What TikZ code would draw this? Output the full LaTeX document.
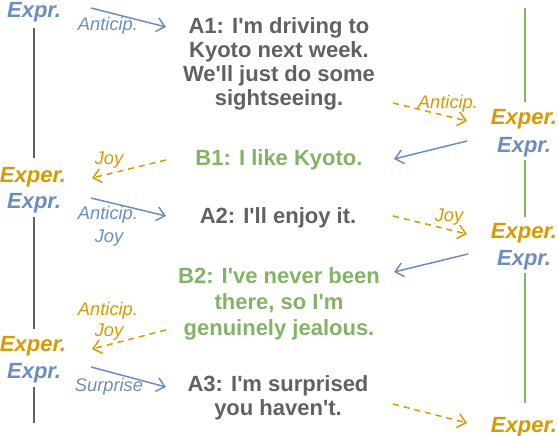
\documentclass[tikz,border=0pt]{standalone}
\usepackage{fontspec}
\setmainfont{Liberation Sans}[Ligatures=TeXOff]
\usetikzlibrary{arrows.meta}
\definecolor{cblue}{HTML}{6C8EBF}
\definecolor{corange}{HTML}{D79B00}
\definecolor{cgreen}{HTML}{82B366}
\definecolor{cgray}{HTML}{616161}
\begin{document}
\begin{tikzpicture}[x=1pt,y=-1pt,
 utt/.style={font=\fontsize{22}{24}\selectfont\bfseries, align=center, inner sep=0pt},
 lab/.style={font=\fontsize{22}{24}\selectfont\bfseries\itshape, inner sep=0pt},
 small/.style={font=\fontsize{18.3}{21}\selectfont\itshape, inner sep=0pt},
 bluearrow/.style={draw=cblue, line width=1.5pt, -{Straight Barb[length=8pt,width=14pt]}},
 orangearrow/.style={draw=corange, line width=1.5pt, dash pattern=on 6pt off 5pt, -{Straight Barb[length=8pt,width=14pt]}},
 lefttime/.style={draw=cgray, line width=2pt},
 righttime/.style={draw=cgreen, line width=2pt}
]
\useasboundingbox (0,0) rectangle (558,436);

% utterances
\node[utt, text=cgray] (A1) at (279,64) {A1: I'm driving to\\Kyoto next week.\\We'll just do some\\sightseeing.};
\node[utt, text=cgreen] (B1) at (279,160) {B1: I like Kyoto.};
\node[utt, text=cgray] (A2) at (278,218) {A2: I'll enjoy it.};
\node[utt, text=cgreen, font=\fontsize{22}{26}\selectfont\bfseries] (B2) at (279,304) {B2: I've never been\\there, so I'm\\genuinely jealous.};
\node[utt, text=cgray] (A3) at (278,398) {A3: I'm surprised\\you haven't.};

% left side labels
\node[lab, text=cblue] (L1e) at (34,12) {Expr.};
\node[lab, text=corange] (L2x) at (33,177) {Exper.};
\node[lab, text=cblue] (L2e) at (34,203) {Expr.};
\node[lab, text=corange] (L3x) at (33,346) {Exper.};
\node[lab, text=cblue] (L3e) at (34,373) {Expr.};

% right side labels
\node[lab, text=corange] (R1x) at (524,119) {Exper.};
\node[lab, text=cblue] (R1e) at (524,147) {Expr.};
\node[lab, text=corange] (R2x) at (524,233) {Exper.};
\node[lab, text=cblue] (R2e) at (524,260) {Expr.};
\node[lab, text=corange] (R3x) at (524,427) {Exper.};

% timelines
\coordinate (lt1) at (34,28);  \coordinate (lb1) at (34,158);
\coordinate (lt2) at (34,217); \coordinate (lb2) at (34,329);
\coordinate (lt3) at (34,387); \coordinate (lb3) at (34,423);
\draw[lefttime] (lt1) -- (lb1);
\draw[lefttime] (lt2) -- (lb2);
\draw[lefttime] (lt3) -- (lb3);
\coordinate (rt1) at (525,8);   \coordinate (rb1) at (525,102);
\coordinate (rt2) at (525,160); \coordinate (rb2) at (525,217);
\coordinate (rt3) at (525,273); \coordinate (rb3) at (525,403);
\draw[righttime] (rt1) -- (rb1);
\draw[righttime] (rt2) -- (rb2);
\draw[righttime] (rt3) -- (rb3);

% arrow end points
\coordinate (a1s) at (91,8);    \coordinate (a1e) at (166,27);
\coordinate (a2s) at (393,103); \coordinate (a2e) at (467,121);
\coordinate (a3s) at (467,141); \coordinate (a3e) at (394,159);
\coordinate (a4s) at (166,160); \coordinate (a4e) at (92,178);
\coordinate (a5s) at (91,198);  \coordinate (a5e) at (166,216);
\coordinate (a6s) at (393,216); \coordinate (a6e) at (467,234);
\coordinate (a7s) at (468,254); \coordinate (a7e) at (394,272);
\coordinate (a8s) at (166,330); \coordinate (a8e) at (92,349);
\coordinate (a9s) at (91,367);  \coordinate (a9e) at (166,387);
\coordinate (a10s) at (393,404); \coordinate (a10e) at (467,423);

\draw[bluearrow] (a1s) -- (a1e);
\draw[orangearrow] (a2s) -- (a2e);
\draw[bluearrow] (a3s) -- (a3e);
\draw[orangearrow] (a4s) -- (a4e);
\draw[bluearrow] (a5s) -- (a5e);
\draw[orangearrow] (a6s) -- (a6e);
\draw[bluearrow] (a7s) -- (a7e);
\draw[orangearrow] (a8s) -- (a8e);
\draw[bluearrow] (a9s) -- (a9e);
\draw[orangearrow] (a10s) -- (a10e);

% emotion labels
\node[small, text=cblue] (t1) at (108,26) {Anticip.};
\node[small, text=corange] (t2) at (448,104) {Anticip.};
\node[small, text=corange] (t4) at (109,160) {Joy};
\node[small, text=cblue] (t5a) at (108,215) {Anticip.};
\node[small, text=cblue] (t5b) at (109,238) {Joy};
\node[small, text=corange] (t6) at (449,217) {Joy};
\node[small, text=corange] (t8a) at (108,311) {Anticip.};
\node[small, text=corange] (t8b) at (109,332) {Joy};
\node[small, text=cblue] (t9) at (109,387) {Surprise};
\end{tikzpicture}
\end{document}
